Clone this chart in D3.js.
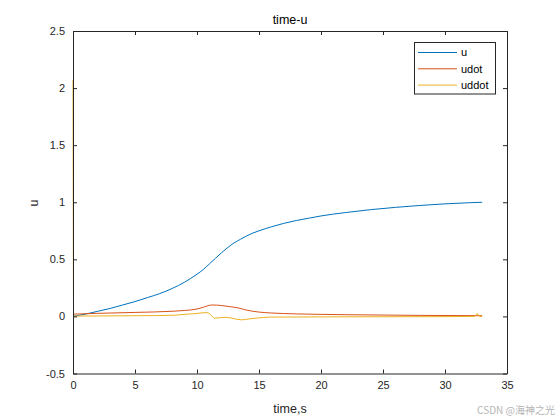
<!DOCTYPE html>
<html><head><meta charset="utf-8">
<script src="https://cdn.jsdelivr.net/npm/d3@7"></script>
<style>body{margin:0;background:#fff}svg{display:block}text{font-family:"Liberation Sans",Arial,sans-serif}</style>
</head><body><svg id="c" width="560" height="420"></svg>
<script>
const xTicks=[0,5,10,15,20,25,30,35];
const yTicks=[-0.5,0,0.5,1,1.5,2,2.5];
const seriesNames=["u","udot","uddot"];
const seriesColors=["#0072BD","#D95319","#EDB120"];
const tU=[0,1,2,3,4,5,6,7,8,9,10,10.5,11,11.5,12,12.5,13,13.5,14,14.5,15,16,17,18,19,20,22,24,26,28,30,32,33];
const vU=[0,0.02,0.045,0.07,0.1,0.13,0.165,0.2,0.245,0.3,0.37,0.41,0.46,0.51,0.56,0.605,0.645,0.675,0.705,0.73,0.75,0.785,0.815,0.84,0.86,0.88,0.91,0.935,0.955,0.972,0.986,0.996,1.0];
const tUd=[0,2,5,8,9,10,10.5,11,11.2,11.6,12,12.7,13.3,14,15,16,18,20,22,25,28,30,33];
const vUd=[0.02,0.027,0.035,0.045,0.052,0.065,0.08,0.097,0.1,0.099,0.095,0.085,0.075,0.055,0.038,0.03,0.022,0.018,0.015,0.012,0.009,0.008,0.006];
const tUdd=[0,0.05,2,5,8,9,10,10.5,10.8,11,11.4,12,12.4,13,13.6,14.2,14.8,15.9,18,20,25,30,32.4,32.6,32.8,33];
const vUdd=[2.07,0.003,0.004,0.006,0.01,0.018,0.026,0.032,0.033,0.025,-0.015,-0.01,-0.008,-0.02,-0.03,-0.022,-0.015,-0.006,-0.005,-0.004,-0.003,-0.002,0,0.025,0,-0.001];

const svg=d3.select("#c");
const L=73,R=507,T=31,B=373.5;
const x=d3.scaleLinear().domain([0,35]).range([L,R]);
const y=d3.scaleLinear().domain([-0.5,2.5]).range([B,T]);
const axCol="#262626";

const data=[tU.map((t,i)=>[t,vU[i]]),tUd.map((t,i)=>[t,vUd[i]]),tUdd.map((t,i)=>[t,vUdd[i]])];
const line=d3.line().x(d=>x(d[0])).y(d=>y(d[1])).curve(d3.curveMonotoneX);
const g=svg.append("g");
data.forEach((d,i)=>{
  g.append("path").attr("d",line(d)).attr("fill","none").attr("stroke",seriesColors[i]).attr("stroke-width",1);
});

// axes
const fmt=d=>String(d);
const xb=svg.append("g").attr("transform",`translate(0,${B})`).call(d3.axisBottom(x).tickValues(xTicks).tickSizeInner(-4).tickSizeOuter(0).tickPadding(8).tickFormat(fmt));
const xt=svg.append("g").attr("transform",`translate(0,${T})`).call(d3.axisTop(x).tickValues(xTicks).tickSizeInner(-4).tickSizeOuter(0).tickFormat(""));
const yl=svg.append("g").attr("transform",`translate(${L},0)`).call(d3.axisLeft(y).tickValues(yTicks).tickSizeInner(-4).tickSizeOuter(0).tickPadding(8).tickFormat(fmt));
const yr=svg.append("g").attr("transform",`translate(${R},0)`).call(d3.axisRight(y).tickValues(yTicks).tickSizeInner(-4).tickSizeOuter(0).tickFormat(""));
[xb,xt,yl,yr].forEach(a=>{
  a.select(".domain").attr("stroke",axCol).attr("stroke-width",1);
  a.selectAll(".tick line").attr("stroke",axCol);
  a.selectAll("text").attr("fill",axCol).style("font-size","11px").style("font-family","'Liberation Sans',Arial,sans-serif");
});
xb.selectAll("text").attr("dy","0.71em");

svg.append("text").attr("x",290).attr("y",24).attr("text-anchor","middle").attr("fill","#000").style("font-size","12.5px").text("time-u");
svg.append("text").attr("x",290).attr("y",413).attr("text-anchor","middle").attr("fill",axCol).style("font-size","12.5px").text("time,s");
svg.append("text").attr("transform",`translate(38,203) rotate(-90)`).attr("text-anchor","middle").attr("fill",axCol).style("font-size","12.5px").text("u");

// legend
const lg=svg.append("g");
lg.append("rect").attr("x",414.5).attr("y",42.5).attr("width",81).attr("height",51.5).attr("fill","#fff").attr("stroke",axCol).attr("stroke-width",1);
seriesNames.forEach((n,i)=>{
  const yy=52.5+i*16.3;
  lg.append("line").attr("x1",418).attr("x2",457).attr("y1",yy).attr("y2",yy).attr("stroke",seriesColors[i]).attr("stroke-width",1);
  lg.append("text").attr("x",461).attr("y",yy).attr("dy","0.35em").attr("fill","#000").style("font-size","11px").text(n);
});

svg.append("text").attr("x",555).attr("y",414).attr("text-anchor","end").attr("fill","#b5b5b5").style("font-size","10px").style("font-family","'Noto Sans CJK SC','Liberation Sans',sans-serif").text("CSDN @海神之光");
</script></body></html>
